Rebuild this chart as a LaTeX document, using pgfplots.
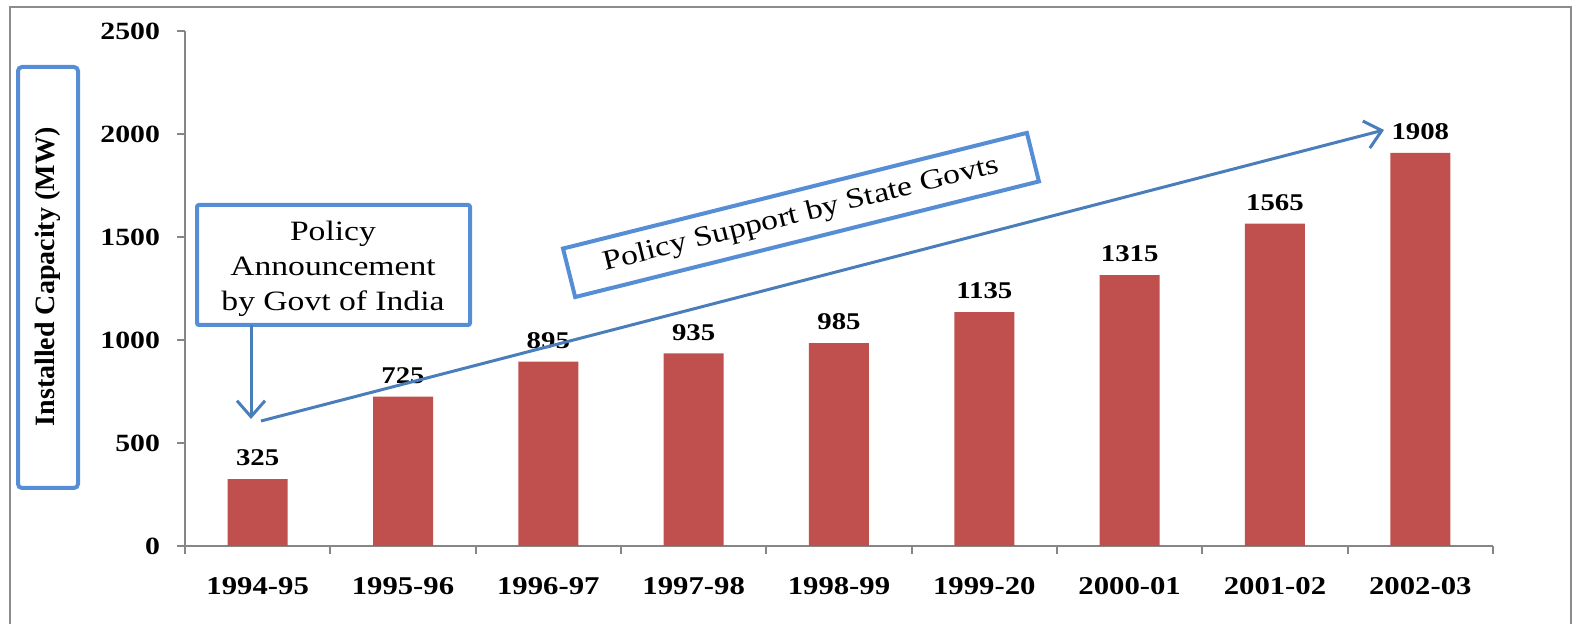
\documentclass[border=0pt]{standalone}
\usepackage{fontspec}
\setmainfont[FakeStretch=1.2]{Liberation Serif}
\newfontfamily\plainserif{Liberation Serif}
\usepackage{pgfplots}
\pgfplotsset{compat=1.18}
\usetikzlibrary{arrows.meta}
\definecolor{barred}{HTML}{C0504D}
\definecolor{boxblue}{HTML}{558ED5}
\definecolor{arrblue}{HTML}{4A7EBB}
\definecolor{axgray}{HTML}{868686}
\definecolor{framegray}{HTML}{8C8C8C}
\begin{document}
\begin{tikzpicture}[x=0.5pt,y=0.5pt]
\useasboundingbox (0,0) rectangle (1575,624);
\draw[framegray, line width=1pt] (10,-20) -- (10,617) -- (1571,617) -- (1571,-20);
\begin{axis}[
  at={(92.5pt,39pt)}, anchor=south west,
  scale only axis, width=654pt, height=257.5pt,
  xmin=-0.5, xmax=8.5, ymin=0, ymax=2500,
  ybar, bar width=30pt,
  axis x line*=bottom, axis y line*=left,
  axis line style={axgray, line width=1pt},
  every tick/.style={axgray, line width=1pt},
  xtick={0,...,8},
  xticklabels={1994-95,1995-96,1996-97,1997-98,1998-99,1999-20,2000-01,2001-02,2002-03},
  major x tick style={draw=none},
  minor xtick={-0.5,0.5,...,8.5},
  minor tick length=4pt,
  ytick={0,500,...,2500},
  major tick length=4pt,
  tick align=outside,
  /pgf/number format/assume math mode=true,
  /pgf/number format/1000 sep={},
  xticklabel style={font=\bfseries\fontsize{12.8}{14}\selectfont, yshift=-8pt},
  yticklabel style={font=\bfseries\fontsize{12.4}{14}\selectfont, xshift=-5pt},
  nodes near coords,
  every node near coord/.append style={font=\bfseries\fontsize{12}{14}\selectfont, yshift=3pt, black},
  clip=false,
]
\addplot[fill=barred, draw=none] coordinates {
(0,325) (1,725) (2,895) (3,935) (4,985) (5,1135) (6,1315) (7,1565) (8,1908)};
\end{axis}
% y label box
\draw[boxblue, line width=2pt, rounded corners=2pt] (18,557) rectangle (78,136);
\node[rotate=90, font=\plainserif\bfseries\fontsize{14}{16}\selectfont] at (48,347) {Installed Capacity (MW)};
% announcement box
\draw[boxblue, line width=2pt, rounded corners=1pt] (197,419) rectangle (470,299);
\node[align=center, font=\fontsize{14}{17.5}\selectfont] at (333,355) {Policy\\Announcement\\by Govt of India};
\draw[arrblue, line width=1.5pt, -{Straight Barb[length=8pt,width=14pt]}] (251,299) -- (251,205);
% long arrow
\draw[arrblue, line width=1.5pt, -{Straight Barb[length=8pt,width=14pt]}] (261,203) -- (1384,494);
% policy support box
\node[draw=boxblue, line width=2pt, rotate=14, minimum width=239pt, minimum height=25pt, inner sep=0pt, font=\fontsize{14}{17}\selectfont] at (801,409) {Policy Support by State Govts};
\end{tikzpicture}
\end{document}
